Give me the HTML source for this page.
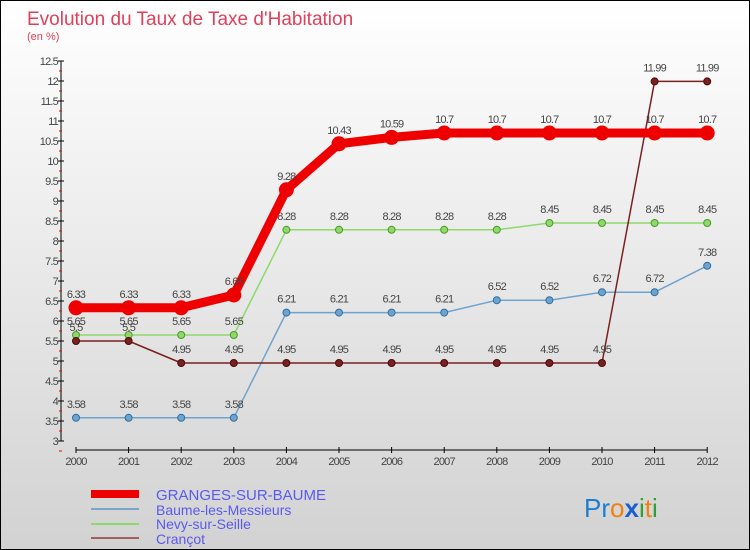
<!DOCTYPE html>
<html><head><meta charset="utf-8"><style>
body{margin:0}
#c{width:750px;height:550px;position:relative;box-sizing:border-box;border:1px solid #000;background:linear-gradient(#fff,#d2d2d2);font-family:"Liberation Sans",sans-serif;overflow:hidden}
svg text{font-family:"Liberation Sans",sans-serif}
</style></head><body>
<div id="c">
<svg width="750" height="550" id="s">
<text x="26" y="24" font-size="19" fill="#e0405a">Evolution du Taux de Taxe d'Habitation</text>
<text x="26" y="39" font-size="11" fill="#e0405a">(en %)</text>
<g id="axes"></g><g id="series"></g>
<g>
<rect x="90" y="489" width="48" height="8" fill="#e00"/>
<text x="155" y="499" font-size="15" fill="#5a5aee">GRANGES-SUR-BAUME</text>
<line x1="90" y1="508" x2="138" y2="508" stroke="#7aa6cc" stroke-width="2"/>
<text x="155" y="514" font-size="14" fill="#5a5aee">Baume-les-Messieurs</text>
<line x1="90" y1="523" x2="138" y2="523" stroke="#8fd86a" stroke-width="2"/>
<text x="155" y="528" font-size="14" fill="#5a5aee">Nevy-sur-Seille</text>
<line x1="90" y1="537" x2="138" y2="537" stroke="#a06060" stroke-width="2"/>
<text x="155" y="543" font-size="14" fill="#5a5aee">Crançot</text>
</g>
<text x="583" y="516" font-size="26"><tspan fill="#1a7fd0">Pr</tspan><tspan fill="#f08010">o</tspan><tspan fill="#1a5fd0" font-weight="bold">x</tspan><tspan fill="#30a030">i</tspan><tspan fill="#f08010">t</tspan><tspan fill="#30a030">i</tspan></text>
</svg></div>
<script>
const years=[2000,2001,2002,2003,2004,2005,2006,2007,2008,2009,2010,2011,2012];
const granges=[6.33,6.33,6.33,6.65,9.28,10.43,10.59,10.7,10.7,10.7,10.7,10.7,10.7];
const baume=[3.58,3.58,3.58,3.58,6.21,6.21,6.21,6.21,6.52,6.52,6.72,6.72,7.38];
const nevy=[5.65,5.65,5.65,5.65,8.28,8.28,8.28,8.28,8.28,8.45,8.45,8.45,8.45];
const crancot=[5.5,5.5,4.95,4.95,4.95,4.95,4.95,4.95,4.95,4.95,4.95,11.99,11.99];
const yTicks=[3,3.5,4,4.5,5,5.5,6,6.5,7,7.5,8,8.5,9,9.5,10,10.5,11,11.5,12,12.5];
const NS="http://www.w3.org/2000/svg";
const X=i=>75+i*52.6, Y=v=>440-(v-3)*40;
function mk(t,a,p){const e=document.createElementNS(NS,t);for(const k in a)e.setAttribute(k,a[k]);p.appendChild(e);return e;}
const ax=document.getElementById('axes');
const yl=mk('line',{x1:60,y1:Y(12.5),x2:60,y2:Y(3),stroke:'#000'},ax);


yTicks.forEach(v=>{
 mk('line',{x1:57,y1:Y(v),x2:63,y2:Y(v),stroke:'#000'},ax);
 mk('line',{x1:58,y1:Y(v)+10,x2:61,y2:Y(v)+10,stroke:'#e00'},ax);
 const t=mk('text',{x:57,y:Y(v)+4,'font-size':11,fill:'#444','text-anchor':'end','letter-spacing':'-0.8'},ax);t.textContent=String(v);
 
 
});
const xl=mk('line',{x1:X(0),y1:449,x2:X(12),y2:449,stroke:'#000'},ax);


years.forEach((y,i)=>{
 mk('line',{x1:X(i),y1:446,x2:X(i),y2:452,stroke:'#000'},ax);
 const t=mk('text',{x:X(i),y:464,'font-size':11,fill:'#444','text-anchor':'middle','letter-spacing':'-0.8'},ax);t.textContent=y;
 
 
});
const sg=document.getElementById('series');
function series(d,col,dark,w,r,name){
 const g=mk('g',{},sg);
 
 
 mk('polyline',{points:d.map((v,i)=>X(i)+','+Y(v)).join(' '),fill:'none',stroke:col,'stroke-width':w,'stroke-linejoin':'round'},g);
 d.forEach((v,i)=>{
  const c=mk('circle',{cx:X(i),cy:Y(v),r:r,fill:col,stroke:dark,'stroke-width':1},g);
  
  
  const t=mk('text',{x:X(i),y:Y(v)-10,'font-size':11,fill:'#444','text-anchor':'middle','letter-spacing':'-0.8'},g);t.textContent=String(v);
  
  
 });
}
series(baume,'#6fa3cf','#2f6f9f',1.5,3.5,'baume');
series(nevy,'#8fd86a','#4c9a2a',1.5,3.5,'nevy');
series(crancot,'#7a2020','#4a0a0a',1.5,3.5,'crancot');
series(granges,'#e00','#e00',9,7,'granges');
</script>
</body></html>
